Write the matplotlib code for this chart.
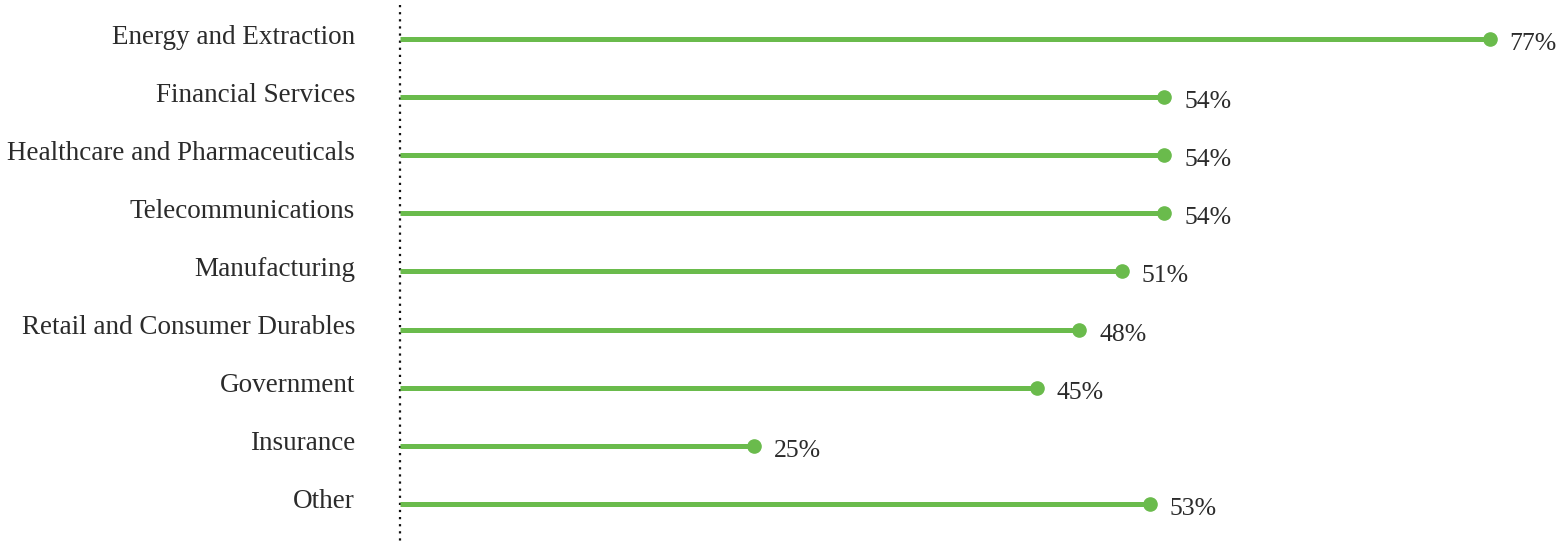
import matplotlib.pyplot as plt
from matplotlib.transforms import blended_transform_factory

# --- Data ---
sectors = ['Energy and Extraction', 'Financial Services', 'Healthcare and Pharmaceuticals',
           'Telecommunications', 'Manufacturing', 'Retail and Consumer Durables',
           'Government', 'Insurance', 'Other']
shares = [77, 54, 54, 54, 51, 48, 45, 25, 53]
value_labels = ['77%', '54%', '54%', '54%', '51%', '48%', '45%', '25%', '53%']

green = '#6abb4c'
text_color = '#2b2b2b'
plt.rcParams['font.family'] = ['Liberation Serif', 'DejaVu Serif']

W, H, DPI = 1556, 545, 100
fig = plt.figure(figsize=(W / DPI, H / DPI), dpi=DPI)

# axes: value 0 sits at x=400px, 14.15 px per percent; rows every 58.1 px starting at 39 px
x0 = 400
px_per = 14.15
ax = fig.add_axes([x0 / W, 0, 1 - x0 / W, 1])
ax.set_xlim(0, (W - x0) / px_per)
row = 58.1
ax.set_ylim((H - 39) / row, -39 / row)
ax.axis('off')

for i, (name, v, lab) in enumerate(zip(sectors, shares, value_labels)):
    ax.plot([0, v], [i, i], color=green, linewidth=3.6, solid_capstyle='butt', zorder=2)
    ax.plot(v, i, 'o', color=green, markersize=9.5, zorder=3)
    ax.annotate(lab, (v, i), xytext=(20 * 0.72, -5 * 0.72), textcoords='offset points',
                ha='left', va='center', fontsize=18.5, color=text_color)
    ax.annotate(name, (0, i), xytext=(-45 * 0.72, 2 * 0.72), textcoords='offset points',
                ha='right', va='center', fontsize=19.5, color=text_color)

# dotted baseline
trans = blended_transform_factory(ax.transData, fig.transFigure)
ax.plot([0, 0], [1 - 5 / H, 0], transform=trans, color='#111111', linewidth=1.6,
        linestyle=(0, (1, 2.2)), clip_on=False, zorder=1)

fig.savefig('out.png', dpi=DPI)
